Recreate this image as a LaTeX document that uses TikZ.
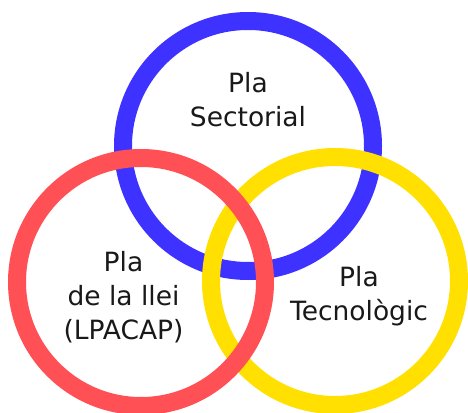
\documentclass[tikz,border=0pt]{standalone}
\usepackage{fontspec}
\setmainfont{DejaVu Sans}
\definecolor{ringblue}{RGB}{61, 50, 255}
\definecolor{ringred}{RGB}{255, 80, 85}
\definecolor{ringyellow}{RGB}{255, 224, 0}
\usepackage{tikz}
\usetikzlibrary{positioning}
\tikzset{
  ring/.style={line width=18pt},
  plan/.style={align=center, inner sep=0, text=black!90, font=\fontsize{26.5}{34}\selectfont}
}

\begin{document}
\begin{tikzpicture}[x=1pt,y=-1pt]
      \useasboundingbox (0,0) rectangle (468,412);
      \coordinate (sectorial) at (248,146);
      \coordinate (llei) at (141,282);
      \coordinate (tecnologic) at (335,281);
      \draw[ring, ringblue] (sectorial) circle (125pt);
      \draw[ring, ringyellow] (tecnologic) circle (124pt);
      \draw[ring, ringred] (llei) circle (124pt);
      \node[plan] (sectorialtext) at (248,100) {Pla\\Sectorial};
      \node[plan] (lleitext) at (123.5,297) {Pla\\de la llei\\(LPACAP)};
      \node[plan] (tecnologictext) at (359,296.5) {Pla\\Tecnològic};
    \end{tikzpicture}
\end{document}
